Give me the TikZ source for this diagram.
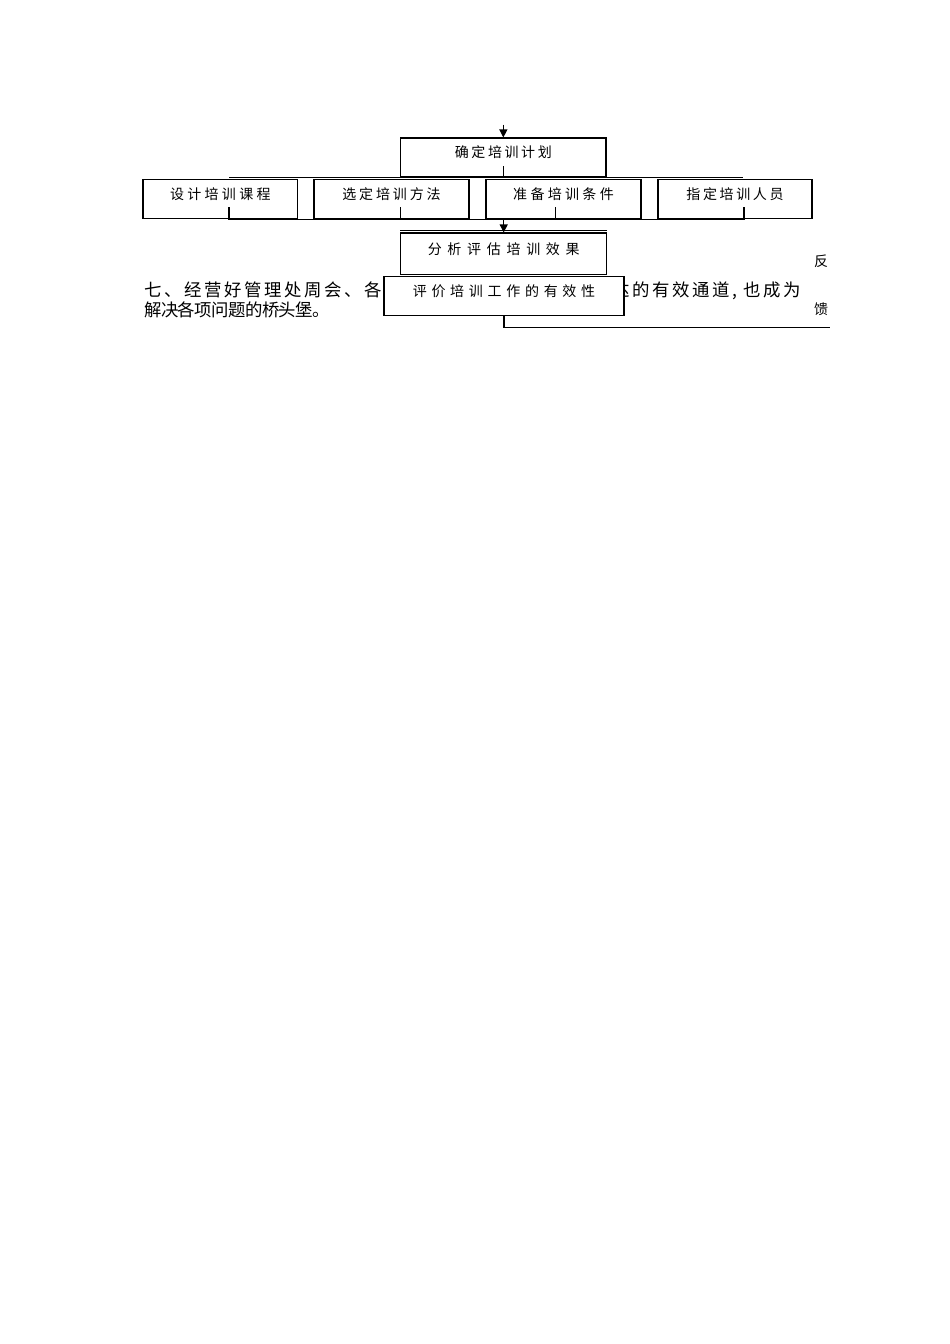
\documentclass[tikz,border=0pt]{standalone}
\usepackage{fontspec}
\newfontfamily\cjk{Noto Sans CJK SC}
\usetikzlibrary{arrows.meta}
\begin{document}
\begin{tikzpicture}[x=1pt,y=-1pt,
  box/.style={draw, fill=white, line width=1.1pt, inner sep=0pt,
    text height=6.4pt, text depth=5.6pt,
    font=\cjk\fontsize{14pt}{14pt}\selectfont},
  body/.style={inner sep=0pt, anchor=base west,
    font=\cjk\fontsize{17.4pt}{21pt}\selectfont},
  side/.style={inner sep=0pt, font=\cjk\fontsize{14pt}{14pt}\selectfont},
  conn/.style={line width=1.1pt},
  arr/.style={line width=1.1pt, -{Triangle[width=8pt,length=8pt]}}]
\useasboundingbox (0,0) rectangle (950,1344);
\fill[white] (0,0) rectangle (950,1344);
% body text (partly hidden by the boxes)
\node[body] (t1) at (144,296) {\addfontfeature{LetterSpace=14.9}七、经营好管理处周会、各};
\node[body] (t3) at (612,296) {\addfontfeature{LetterSpace=14.9}达的有效通道, 也成为};
\node[body] (t2) at (144,316) {\addfontfeature{LetterSpace=-3.2}解决各项问题的桥头堡。};
% boxes
\node[box, minimum width=205.3pt, minimum height=38.7pt] (plan) at (503.35,157.35) {\addfontfeature{LetterSpace=18.6}确定培训计划};
\node[box, minimum width=154.7pt, minimum height=39.2pt] (b1) at (220.35,198.9) {\addfontfeature{LetterSpace=23.6}设计培训课程};
\node[box, minimum width=155pt, minimum height=39.2pt] (b2) at (391.5,198.9) {\addfontfeature{LetterSpace=20.7}选定培训方法};
\node[box, minimum width=155pt, minimum height=39.2pt] (b3) at (563.5,198.9) {\addfontfeature{LetterSpace=23.6}准备培训条件};
\node[box, minimum width=154pt, minimum height=39.2pt] (b4) at (735,198.9) {\addfontfeature{LetterSpace=18.6}指定培训人员};
\node[box, minimum width=206pt, minimum height=41.7pt] (anal) at (503.7,253.85) {\addfontfeature{LetterSpace=40.7}分析评估培训效果};
\draw[conn] ([yshift=2.3pt]anal.north west) -- ([yshift=2.3pt]anal.north east);
\node[box, minimum width=240pt, minimum height=39.2pt] (eval) at (504,295.9) {\addfontfeature{LetterSpace=33.6}评价培训工作的有效性};
% connectors
\coordinate (in) at (503.35,124.5);
\draw[arr] (in) -- (plan.north);
\coordinate (ps) at (503.35,166);
\coordinate (tl) at (229,177.7);
\coordinate (tr) at (743,177.7);
\draw[conn] (ps) -- (ps |- tl);
\draw[conn] (tl) -- (tr);
\coordinate (bl) at (229,219.6);
\coordinate (br) at (744,219.6);
\draw[conn] (bl) -- (br);
\coordinate (s1) at (229,207);
\coordinate (s2) at (400.7,207);
\coordinate (s3) at (555.7,207);
\coordinate (s4) at (744,207);
\draw[conn] (s1) -- (s1 |- bl);
\draw[conn] (s2) -- (s2 |- bl);
\draw[conn] (s3) -- (s3 |- bl);
\draw[conn] (s4) -- (s4 |- bl);
\coordinate (bj) at (503.7,219.6);
\draw[arr] (bj) -- (anal.north);
\coordinate (fb) at (830,327.3);
\draw[conn] (eval.south) -- (eval.south |- fb) -- (fb);
\node[side] (fan) at (821,261) {反};
\node[side] (kui) at (821,309) {馈};
\end{tikzpicture}
\end{document}
